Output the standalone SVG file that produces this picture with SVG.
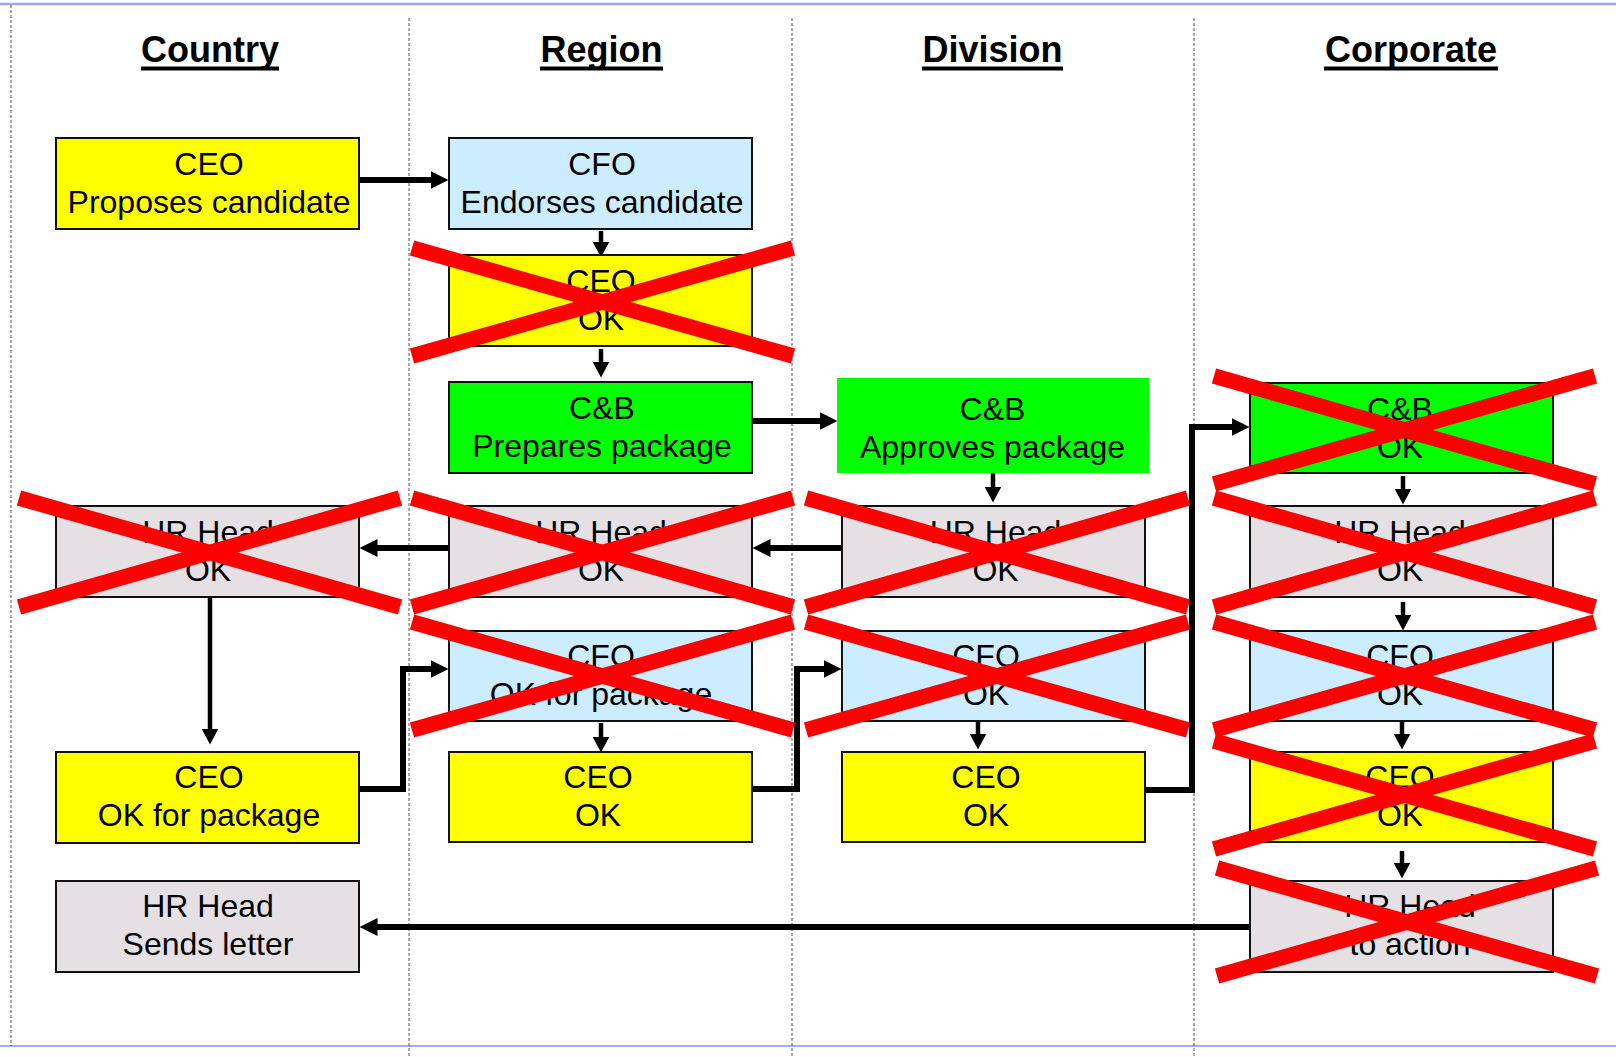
<svg xmlns="http://www.w3.org/2000/svg" width="1616" height="1057" viewBox="0 0 1616 1057">
<style>
.lane{stroke:#555;stroke-width:1;stroke-dasharray:3 2;fill:none}
.hdr{font-family:"Liberation Sans",Arial,sans-serif;font-weight:bold;font-size:36px;fill:#000;text-anchor:middle}
.ul{fill:#000}
.box{stroke:#111;stroke-width:2}
.y{fill:#FFFF00}.b{fill:#CCECFF}.g{fill:#00FF00}.gr{fill:#E4E0E4}
.t{font-family:"Liberation Sans",Arial,sans-serif;font-size:32px;fill:#000;text-anchor:middle}
.thick{stroke:#000;stroke-width:6;fill:none;marker-end:url(#ah)}
.thin{stroke:#000;stroke-width:4.5;fill:none;marker-end:url(#av)}
.x{stroke:#FF0000;stroke-width:15.5;stroke-linecap:butt}
</style>
<defs>
<marker id="ah" markerUnits="userSpaceOnUse" markerWidth="18" markerHeight="18" viewBox="0 0 18 18" refX="0.5" refY="9" orient="auto">
<path d="M0,0 L18,9 L0,18 Z" fill="#000"/>
</marker>
<marker id="av" markerUnits="userSpaceOnUse" markerWidth="16" markerHeight="17" viewBox="0 0 16 17" refX="0.5" refY="8.5" orient="auto">
<path d="M0,0 L16,8.5 L0,17 Z" fill="#000"/>
</marker>
</defs>
<rect x="0" y="0" width="1616" height="1057" fill="#fff"/>
<g id="frame">
<line x1="0" y1="4" x2="1616" y2="4" stroke="#9AA6F2" stroke-width="2.5"/>
<line x1="0" y1="1046" x2="1616" y2="1046" stroke="#7F90F2" stroke-width="1.5"/>
<line class="lane" x1="11" y1="5" x2="11" y2="1046"/>
<line class="lane" x1="409" y1="18" x2="409" y2="1057"/>
<line class="lane" x1="792" y1="18" x2="792" y2="1057"/>
<line class="lane" x1="1194" y1="18" x2="1194" y2="1057"/>
</g>
<g id="headers">
<text class="hdr" x="210" y="62">Country</text><rect class="ul" x="141" y="66.5" width="138" height="4"/>
<text class="hdr" x="601.5" y="62">Region</text><rect class="ul" x="540" y="66.5" width="123" height="4"/>
<text class="hdr" x="992.5" y="62">Division</text><rect class="ul" x="922" y="66.5" width="141" height="4"/>
<text class="hdr" x="1411" y="62">Corporate</text><rect class="ul" x="1324" y="66.5" width="174" height="4"/>
</g>
<g id="connectors">
<path class="thick" d="M359,180 H431"/>
<path class="thick" d="M751,421 H820"/>
<path class="thick" d="M842,548 H770"/>
<path class="thick" d="M449,548 H377"/>
<path class="thick" d="M359,789 H403 V669 H431"/>
<path class="thick" d="M752,789 H797 V669 H824"/>
<path class="thick" d="M1145,790 H1192 V427 H1232"/>
<path class="thick" d="M1250,927 H377"/>
<path class="thin" d="M601,231 V242"/>
<path class="thin" d="M601,349 V362"/>
<path class="thin" d="M993,473 V487"/>
<path class="thin" d="M210,597 V729"/>
<path class="thin" d="M601,723 V737"/>
<path class="thin" d="M978,722 V734"/>
<path class="thin" d="M1403,476 V489"/>
<path class="thin" d="M1403,602 V615"/>
<path class="thin" d="M1402,722 V734"/>
<path class="thin" d="M1402,851 V863"/>
</g>
<g id="n-country-ceo-proposes"><rect class="box y" x="56" y="138" width="303" height="91"/><text class="t" x="209" y="175">CEO</text><text class="t" x="209" y="213">Proposes candidate</text></g>
<g id="n-region-cfo-endorses"><rect class="box b" x="449" y="138" width="303" height="91"/><text class="t" x="602" y="175">CFO</text><text class="t" x="602" y="213">Endorses candidate</text></g>
<g id="n-region-ceo-ok"><rect class="box y" x="449" y="255" width="303" height="91"/><text class="t" x="601" y="292">CEO</text><text class="t" x="601" y="330">OK</text></g>
<g id="n-region-cb-prepares"><rect class="box g" x="449" y="382" width="303" height="91"/><text class="t" x="602" y="419">C&amp;B</text><text class="t" x="602" y="457">Prepares package</text></g>
<g id="n-division-cb-approves"><rect class="g" x="837" y="378" width="312" height="95"/><text class="t" x="992.5" y="420">C&amp;B</text><text class="t" x="992.5" y="458">Approves package</text></g>
<g id="n-corporate-cb-ok"><rect class="box g" x="1250" y="383" width="303" height="90"/><text class="t" x="1400" y="420">C&amp;B</text><text class="t" x="1400" y="458">OK</text></g>
<g id="n-country-hr-ok"><rect class="box gr" x="56" y="506" width="303" height="91"/><text class="t" x="208" y="543">HR Head</text><text class="t" x="208" y="581">OK</text></g>
<g id="n-region-hr-ok"><rect class="box gr" x="449" y="506" width="303" height="91"/><text class="t" x="601" y="543">HR Head</text><text class="t" x="601" y="581">OK</text></g>
<g id="n-division-hr-ok"><rect class="box gr" x="842" y="506" width="303" height="91"/><text class="t" x="995.5" y="543">HR Head</text><text class="t" x="995.5" y="581">OK</text></g>
<g id="n-corporate-hr-ok"><rect class="box gr" x="1250" y="506" width="303" height="91"/><text class="t" x="1400" y="543">HR Head</text><text class="t" x="1400" y="581">OK</text></g>
<g id="n-region-cfo-ok-package"><rect class="box b" x="449" y="631" width="303" height="90"/><text class="t" x="601" y="667">CFO</text><text class="t" x="601" y="705">OK for package</text></g>
<g id="n-division-cfo-ok"><rect class="box b" x="842" y="631" width="303" height="90"/><text class="t" x="986" y="667">CFO</text><text class="t" x="986" y="705">OK</text></g>
<g id="n-corporate-cfo-ok"><rect class="box b" x="1250" y="631" width="303" height="90"/><text class="t" x="1400" y="667">CFO</text><text class="t" x="1400" y="705">OK</text></g>
<g id="n-country-ceo-ok-package"><rect class="box y" x="56" y="752" width="303" height="91"/><text class="t" x="209" y="788">CEO</text><text class="t" x="209" y="826">OK for package</text></g>
<g id="n-region-ceo-ok2"><rect class="box y" x="449" y="752" width="303" height="90"/><text class="t" x="598" y="788">CEO</text><text class="t" x="598" y="826">OK</text></g>
<g id="n-division-ceo-ok"><rect class="box y" x="842" y="752" width="303" height="90"/><text class="t" x="986" y="788">CEO</text><text class="t" x="986" y="826">OK</text></g>
<g id="n-corporate-ceo-ok"><rect class="box y" x="1250" y="752" width="303" height="90"/><text class="t" x="1400" y="788">CEO</text><text class="t" x="1400" y="826">OK</text></g>
<g id="n-country-hr-letter"><rect class="box gr" x="56" y="881" width="303" height="91"/><text class="t" x="208" y="917">HR Head</text><text class="t" x="208" y="955">Sends letter</text></g>
<g id="n-corporate-hr-action"><rect class="box gr" x="1250" y="881" width="303" height="91"/><text class="t" x="1410" y="917">HR Head</text><text class="t" x="1410" y="955">to action</text></g>
<g id="strikes">
<line class="x" x1="412" y1="248" x2="793" y2="356"/><line class="x" x1="412" y1="356" x2="793" y2="248"/>
<line class="x" x1="1214" y1="376" x2="1595" y2="484"/><line class="x" x1="1214" y1="484" x2="1595" y2="376"/>
<line class="x" x1="19" y1="498" x2="400" y2="607"/><line class="x" x1="19" y1="607" x2="400" y2="498"/>
<line class="x" x1="412" y1="498" x2="793" y2="607"/><line class="x" x1="412" y1="607" x2="793" y2="498"/>
<line class="x" x1="806" y1="498" x2="1188" y2="607"/><line class="x" x1="806" y1="607" x2="1188" y2="498"/>
<line class="x" x1="1214" y1="498" x2="1595" y2="607"/><line class="x" x1="1214" y1="607" x2="1595" y2="498"/>
<line class="x" x1="412" y1="622" x2="793" y2="730"/><line class="x" x1="412" y1="730" x2="793" y2="622"/>
<line class="x" x1="806" y1="622" x2="1188" y2="730"/><line class="x" x1="806" y1="730" x2="1188" y2="622"/>
<line class="x" x1="1214" y1="622" x2="1595" y2="730"/><line class="x" x1="1214" y1="730" x2="1595" y2="622"/>
<line class="x" x1="1214" y1="741" x2="1595" y2="849"/><line class="x" x1="1214" y1="849" x2="1595" y2="741"/>
<line class="x" x1="1217" y1="868" x2="1597" y2="976"/><line class="x" x1="1217" y1="976" x2="1597" y2="868"/>
</g>
</svg>
